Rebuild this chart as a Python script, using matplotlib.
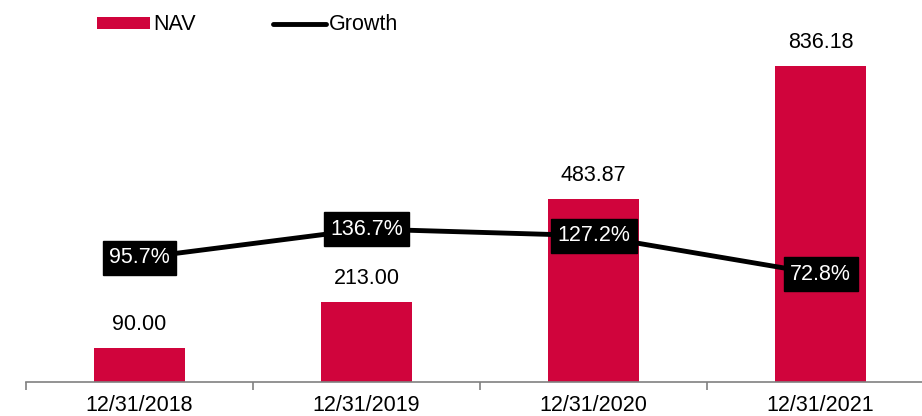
import matplotlib.pyplot as plt
import numpy as np

plt.rcParams['font.family'] = ['Liberation Sans', 'DejaVu Sans']

dates = ['12/31/2018', '12/31/2019', '12/31/2020', '12/31/2021']
nav = [90.00, 213.00, 483.87, 836.18]
growth = [95.7, 136.7, 127.2, 72.8]

red = '#D0043C'
x = np.arange(len(dates))

fig = plt.figure(figsize=(9.22, 4.16), dpi=100)
ax = fig.add_axes([0.0282, 0.0817, 0.985, 0.817])
ax.bar(x, nav, width=0.4, color=red, label='NAV', zorder=2)
for xi, v in zip(x, nav):
    ax.annotate(f'{v:.2f}', (xi, v), xytext=(0, 13), textcoords='offset pixels',
                ha='center', va='bottom', fontsize=15.5)
ax.set_xlim(-0.5, 3.5)
ax.set_ylim(0, 900)
ax.set_xticks(np.arange(-0.5, 4, 1))
ax.set_xticklabels([])
ax.set_xticks(x, minor=True)
ax.set_xticklabels(dates, minor=True, fontsize=15.5)
ax.tick_params(axis='x', which='major', direction='out', length=6, color='#808080', width=1.2)
ax.tick_params(axis='x', which='minor', length=0, pad=9)
ax.set_yticks([])
for s in ['top', 'right', 'left']:
    ax.spines[s].set_visible(False)
ax.spines['bottom'].set_color('#808080')
ax.spines['bottom'].set_linewidth(1.2)

ax2 = ax.twinx()
ax2.plot(x, growth, color='black', linewidth=3.5, label='Growth', solid_capstyle='round', zorder=3)
for xi, g in zip(x, growth):
    ax2.text(xi, g, f'{g:.1f}%', ha='center', va='center', fontsize=15.5, color='white',
             bbox=dict(boxstyle='square,pad=0.3', fc='black', ec='black'), zorder=4)
ax2.set_ylim(-79.7, 401)
ax2.set_yticks([])
for s in ['top', 'right', 'left', 'bottom']:
    ax2.spines[s].set_visible(False)

h1, l1 = ax.get_legend_handles_labels()
h2, l2 = ax2.get_legend_handles_labels()
fig.legend(h1 + h2, l1 + l2, loc='center left', bbox_to_anchor=(97 / 922, 1 - 25 / 416),
           ncol=2, frameon=False, fontsize=15.5, handlelength=2.45, handleheight=0.5,
           handletextpad=0.15, columnspacing=3.6, borderaxespad=0, borderpad=0)

fig.savefig('out.png', dpi=100)
